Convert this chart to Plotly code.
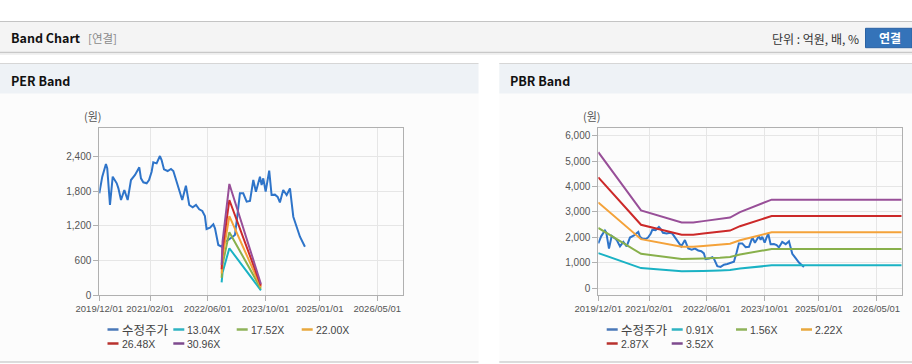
import plotly.graph_objects as go

W, H = 912, 364

# ---------------- data ----------------
price_dates = [
    "2019-12-01", "2019-12-26", "2020-01-26", "2020-02-06", "2020-02-29", "2020-03-23",
    "2020-04-26", "2020-05-10", "2020-06-01", "2020-06-29", "2020-07-27", "2020-08-24",
    "2020-09-27", "2020-11-02", "2020-11-16", "2020-12-06", "2021-01-03", "2021-01-23",
    "2021-02-14", "2021-02-28", "2021-03-28", "2021-04-25", "2021-05-09", "2021-05-29",
    "2021-06-29", "2021-07-27", "2021-08-16", "2021-09-13", "2021-10-05", "2021-10-30",
    "2021-11-30", "2021-12-28", "2022-01-26", "2022-02-23", "2022-03-22", "2022-04-17",
    "2022-05-09", "2022-05-23", "2022-06-21", "2022-07-19", "2022-08-02", "2022-08-30",
    "2022-09-27", "2022-10-25", "2022-11-22", "2022-12-20", "2023-01-17", "2023-02-08",
    "2023-02-28", "2023-03-28", "2023-04-26", "2023-05-24", "2023-06-21", "2023-07-13",
    "2023-08-16", "2023-08-30", "2023-09-13", "2023-10-03", "2023-11-02", "2023-11-22",
    "2023-12-20", "2024-01-12", "2024-01-31", "2024-02-28", "2024-03-28", "2024-04-25",
    "2024-05-23", "2024-06-20", "2024-07-18", "2024-08-29",
]
price_values = [
    1763, 2052, 2272, 2197, 1561, 2052,
    1937, 1850, 1647, 1821, 1647, 1994,
    2081, 2214, 2023, 1954, 1937, 1994,
    2138, 2300, 2283, 2410, 2341, 2179,
    2150, 2185, 2150, 1965, 1792, 1647,
    1896, 1561, 1520, 1561, 1486, 1457,
    1370, 1144, 1167, 1225, 1156, 867,
    838, 924, 954, 994, 1040, 1400,
    1763, 1763, 1618, 1630, 1994, 1792,
    2052, 1907, 2023, 1792, 2156, 1734,
    1740, 1700, 1606, 1821, 1734, 1850,
    1358, 1184, 1011, 838,
]

per_dates = ["2022-09-27", "2022-10-05", "2022-12-01", "2023-08-24"]
per_13_04 = [220, 391, 811, 81]
per_17_52 = [296, 526, 1090, 109]
per_22_00 = [372, 660, 1368, 136]
per_26_48 = [447, 794, 1647, 164]
per_30_96 = [523, 929, 1926, 192]

pbr_dates = ["2019-12-01", "2020-11-25", "2021-11-03", "2022-02-08", "2022-05-04", "2022-09-21",
             "2022-12-15", "2023-03-09", "2023-06-29", "2023-10-01", "2023-12-01", "2026-12-01"]
pbr_0_91 = [1383, 792, 669, 669, 683, 701, 719, 774, 824, 874, 901, 901]
pbr_1_56 = [2371, 1357, 1147, 1147, 1170, 1201, 1232, 1326, 1412, 1498, 1544, 1544]
pbr_2_22 = [3374, 1931, 1632, 1632, 1665, 1709, 1754, 1887, 2009, 2131, 2198, 2198]
pbr_2_87 = [4362, 2497, 2109, 2109, 2153, 2210, 2267, 2440, 2597, 2755, 2841, 2841]
pbr_3_52 = [5350, 3062, 2587, 2587, 2640, 2710, 2781, 2992, 3186, 3379, 3485, 3485]

x_tickvals = ["2019-12-01", "2021-02-01", "2022-06-01", "2023-10-01", "2025-01-01", "2026-05-01"]
x_ticktext = ["2019/12/01", "2021/02/01", "2022/06/01", "2023/10/01", "2025/01/01", "2026/05/01"]

per_labels = ["수정주가", "13.04X", "17.52X", "22.00X", "26.48X", "30.96X"]
pbr_labels = ["수정주가", "0.91X", "1.56X", "2.22X", "2.87X", "3.52X"]

colors = ["#2e74c9", "#1ab2c4", "#88b04b", "#f4a23a", "#cc2929", "#984f98"]
legend_colors = ["#4a78b8", "#2fb3c2", "#8fb35a", "#e8a83e", "#b8322e", "#7e4a8e"]

# ---------------- figure ----------------
fig = go.Figure()

per_series = [per_13_04, per_17_52, per_22_00, per_26_48, per_30_96]
pbr_series = [pbr_0_91, pbr_1_56, pbr_2_22, pbr_2_87, pbr_3_52]

fig.add_trace(go.Scatter(x=price_dates, y=price_values, mode="lines", name=per_labels[0],
                         line=dict(color=colors[0], width=2), xaxis="x", yaxis="y"))
for i, s in enumerate(per_series):
    fig.add_trace(go.Scatter(x=per_dates, y=s, mode="lines", name=per_labels[i + 1],
                             line=dict(color=colors[i + 1], width=2), xaxis="x", yaxis="y"))

fig.add_trace(go.Scatter(x=price_dates, y=price_values, mode="lines", name=pbr_labels[0],
                         line=dict(color=colors[0], width=2), xaxis="x2", yaxis="y2"))
for i, s in enumerate(pbr_series):
    fig.add_trace(go.Scatter(x=pbr_dates, y=s, mode="lines", name=pbr_labels[i + 1],
                             line=dict(color=colors[i + 1], width=2), xaxis="x2", yaxis="y2"))


def px(x):
    return x / W


def py(y):
    return 1 - y / H


tick_font_x = dict(family="Liberation Sans, Arial, sans-serif", size=9.5, color="#555")
tick_font_y = dict(family="Liberation Sans, Arial, sans-serif", size=10, color="#555")

xcommon = dict(type="date", range=["2019-12-01", "2026-12-01"], tickvals=x_tickvals, ticktext=x_ticktext,
               showgrid=True, gridcolor="#e6e6e6", gridwidth=1, showline=True, linecolor="#b0b0b0",
               linewidth=1, mirror=True, ticks="outside", ticklen=5, tickcolor="#b0b0b0",
               tickfont=tick_font_x, zeroline=False, fixedrange=True, automargin=False)
ycommon = dict(showgrid=True, gridcolor="#e6e6e6", gridwidth=1, showline=True, linecolor="#b0b0b0",
               linewidth=1, mirror=True, ticks="outside", ticklen=5, tickcolor="#b0b0b0",
               tickfont=tick_font_y, tickformat=",d", zeroline=False, fixedrange=True, automargin=False)

fig.update_layout(
    width=W, height=H, autosize=False,
    margin=dict(l=0, r=0, t=0, b=0, pad=0, autoexpand=False),
    paper_bgcolor="white", plot_bgcolor="white",
    showlegend=False,
    xaxis=dict(domain=[px(99.3), px(402.7)], anchor="y", **xcommon),
    yaxis=dict(domain=[py(295), py(128)], anchor="x", range=[0, 2896], tick0=0, dtick=600, **ycommon),
    xaxis2=dict(domain=[px(598.3), px(901.7)], anchor="y2", **xcommon),
    yaxis2=dict(domain=[py(295), py(128.3)], anchor="x2", range=[-265, 6290], tick0=0, dtick=1000, **ycommon),
)

shapes = []
annots = []

# page header bar
shapes.append(dict(type="rect", xref="paper", yref="paper", x0=0, x1=1, y0=py(52.5), y1=py(21.5),
                   fillcolor="#f4f4f4", line=dict(width=0), layer="below"))
shapes.append(dict(type="line", xref="paper", yref="paper", x0=0, x1=1, y0=py(21.5), y1=py(21.5),
                   line=dict(color="#c4c4c4", width=1), layer="below"))
shapes.append(dict(type="line", xref="paper", yref="paper", x0=0, x1=1, y0=py(52.5), y1=py(52.5),
                   line=dict(color="#c8c8c8", width=1.5), layer="below"))
shapes.append(dict(type="line", xref="paper", yref="paper", x0=0, x1=1, y0=py(54), y1=py(54),
                   line=dict(color="#ececec", width=1.5), layer="below"))

# button
shapes.append(dict(type="rect", xref="paper", yref="paper", x0=px(865.5), x1=1, y0=py(47.7), y1=py(28.3),
                   fillcolor="#3473b9", line=dict(color="#2a62a3", width=1), layer="below"))

# panels
for (xa, xb) in [(0, 478.5), (499.3, 912)]:
    shapes.append(dict(type="rect", xref="paper", yref="paper", x0=px(xa), x1=px(xb), y0=py(362), y1=py(93.5),
                       fillcolor="#fcfcfc", line=dict(width=0), layer="below"))
    shapes.append(dict(type="rect", xref="paper", yref="paper", x0=px(xa), x1=px(xb), y0=py(93.5), y1=py(63.5),
                       fillcolor="#eef2f6", line=dict(width=0), layer="below"))
    shapes.append(dict(type="line", xref="paper", yref="paper", x0=px(xa), x1=px(xb), y0=py(63.5), y1=py(63.5),
                       line=dict(color="#d6d6d6", width=1), layer="below"))
    shapes.append(dict(type="line", xref="paper", yref="paper", x0=px(xa), x1=px(xb), y0=py(362), y1=py(362),
                       line=dict(color="#d0d0d0", width=1.5), layer="below"))

kr = "Noto Sans CJK KR, Liberation Sans, sans-serif"
lat = "Liberation Sans, Noto Sans CJK KR, sans-serif"


def text(x, y, s, size, color="#111", anchor="left", family=kr):
    annots.append(dict(xref="paper", yref="paper", x=px(x), y=py(y), text=s, showarrow=False,
                       xanchor=anchor, yanchor="middle", borderpad=0,
                       font=dict(family=family, size=size, color=color)))


text(10, 38, "<b>Band Chart</b>", 12.5)
text(87, 38, "[연결]", 11.5, "#8a8a8a")
text(860, 38.5, "단위 : 억원, 배, %", 12, "#333", anchor="right")
text(890, 38, "<b>연결</b>", 12, "white", anchor="center")
text(10, 80.5, "<b>PER Band</b>", 12.5)
text(509, 80.5, "<b>PBR Band</b>", 12.5)
text(93, 116.5, "(원)", 11, "#555", anchor="center")
text(592, 116.5, "(원)", 11, "#555", anchor="center")

# legends
row1, row2 = 329.5, 343.5
per_pos = [(107.5, row1), (173.3, row1), (236.7, row1), (301.7, row1), (107.5, row2), (173.3, row2)]
pbr_pos = [(606.7, row1), (671.7, row1), (736, row1), (801, row1), (606.7, row2), (671.7, row2)]
for labels, pos in [(per_labels, per_pos), (pbr_labels, pbr_pos)]:
    for i, (lab, (x0, y0)) in enumerate(zip(labels, pos)):
        shapes.append(dict(type="line", xref="paper", yref="paper", x0=px(x0), x1=px(x0 + 11), y0=py(y0), y1=py(y0),
                           line=dict(color=legend_colors[i], width=2.5)))
        if i == 0:
            text(x0 + 13, y0, lab, 12.5, "#444", family=kr)
        else:
            text(x0 + 13, y0, lab, 10.5, "#444", family=lat)

fig.update_layout(shapes=shapes, annotations=annots)

fig.write_html("out.html", config={"responsive": False, "displayModeBar": False},
               post_script="document.body.style.margin='0';document.body.style.overflow='hidden';")
